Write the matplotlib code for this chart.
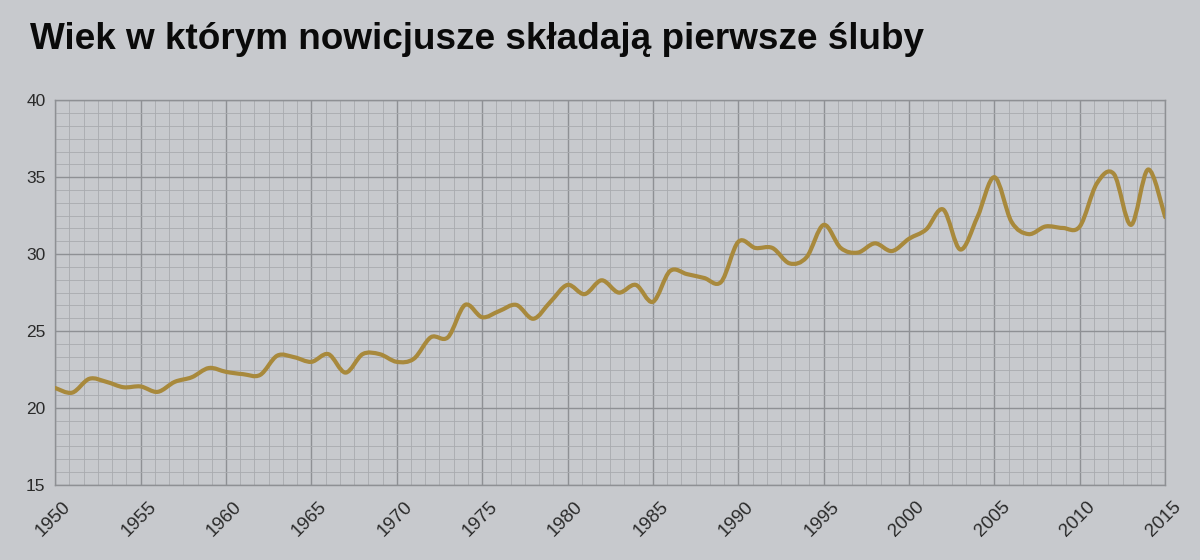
import numpy as np
import matplotlib
matplotlib.use("Agg")
import matplotlib.pyplot as plt
import matplotlib.transforms as mtransforms
from matplotlib.ticker import MultipleLocator
from matplotlib.path import Path
from matplotlib.patches import PathPatch

title = "Wiek w którym nowicjusze składają pierwsze śluby"

years = list(range(1950, 2016))
age = [21.3, 21.0, 21.9, 21.7, 21.35, 21.4, 21.05, 21.7, 22.0, 22.6,
       22.35, 22.2, 22.15, 23.4, 23.3, 23.0, 23.5, 22.3, 23.5, 23.5,
       23.0, 23.2, 24.6, 24.6, 26.7, 25.9, 26.3, 26.7, 25.8, 26.9,
       28.0, 27.4, 28.3, 27.5, 28.0, 26.9, 28.9, 28.7, 28.45, 28.2,
       30.8, 30.4, 30.4, 29.4, 29.8, 31.9, 30.4, 30.1, 30.7, 30.2,
       31.0, 31.6, 32.9, 30.3, 32.4, 35.0, 32.1, 31.3, 31.8, 31.7,
       31.8, 34.6, 35.2, 31.9, 35.5, 32.4]

xticks = list(range(1950, 2016, 5))
yticks = [15, 20, 25, 30, 35, 40]

bg = "#c7c9cd"
line_color = "#a8893c"

plt.rcParams["font.family"] = ["Liberation Sans", "DejaVu Sans"]

fig = plt.figure(figsize=(12, 5.6), dpi=100, facecolor=bg)
ax = fig.add_axes([0.046, 0.134, 0.925, 0.687])
ax.set_facecolor(bg)

# smooth curve through the yearly values (Catmull-Rom as cubic Bezier path)
x = np.array(years, dtype=float)
y = np.array(age, dtype=float)
n = len(x)
verts = [(x[0], y[0])]
codes = [Path.MOVETO]
for i in range(n - 1):
    i0 = max(i - 1, 0)
    i3 = min(i + 2, n - 1)
    c1 = (x[i] + (x[i + 1] - x[i0]) / 6.0, y[i] + (y[i + 1] - y[i0]) / 6.0)
    c2 = (x[i + 1] - (x[i3] - x[i]) / 6.0, y[i + 1] - (y[i3] - y[i]) / 6.0)
    verts += [c1, c2, (x[i + 1], y[i + 1])]
    codes += [Path.CURVE4] * 3
ax.add_patch(PathPatch(Path(verts, codes), fill=False, edgecolor=line_color,
                       lw=3.0, capstyle="round", joinstyle="round", zorder=3))

ax.set_xlim(1950, 2015)
ax.set_ylim(15, 40)
ax.set_xticks(xticks)
ax.set_yticks(yticks)
ax.xaxis.set_minor_locator(MultipleLocator(5 / 6))
ax.yaxis.set_minor_locator(MultipleLocator(5 / 6))
ax.grid(which="major", color="#8e9094", lw=1.0)
ax.grid(which="minor", color="#a9abaf", lw=0.6)
ax.set_axisbelow(True)
for s in ax.spines.values():
    s.set_color("#8e9094")
    s.set_linewidth(1.0)
ax.tick_params(which="both", length=0)
ax.tick_params(axis="y", labelsize=12.5, labelcolor="#2a2a2a", pad=7)
ax.tick_params(axis="x", labelsize=13.5, labelcolor="#2a2a2a", pad=9.5)
offset = mtransforms.ScaledTranslation(5 / 72, 0, fig.dpi_scale_trans)
for lab in ax.get_xticklabels():
    lab.set_rotation(45)
    lab.set_ha("right")
    lab.set_va("top")
    lab.set_rotation_mode("anchor")
    lab.set_transform(lab.get_transform() + offset)

fig.text(0.025, 0.9125, title, fontsize=26.6, fontweight="bold", color="#0a0a0a",
         ha="left", va="baseline")

fig.savefig("out.png", dpi=100, facecolor=bg)
